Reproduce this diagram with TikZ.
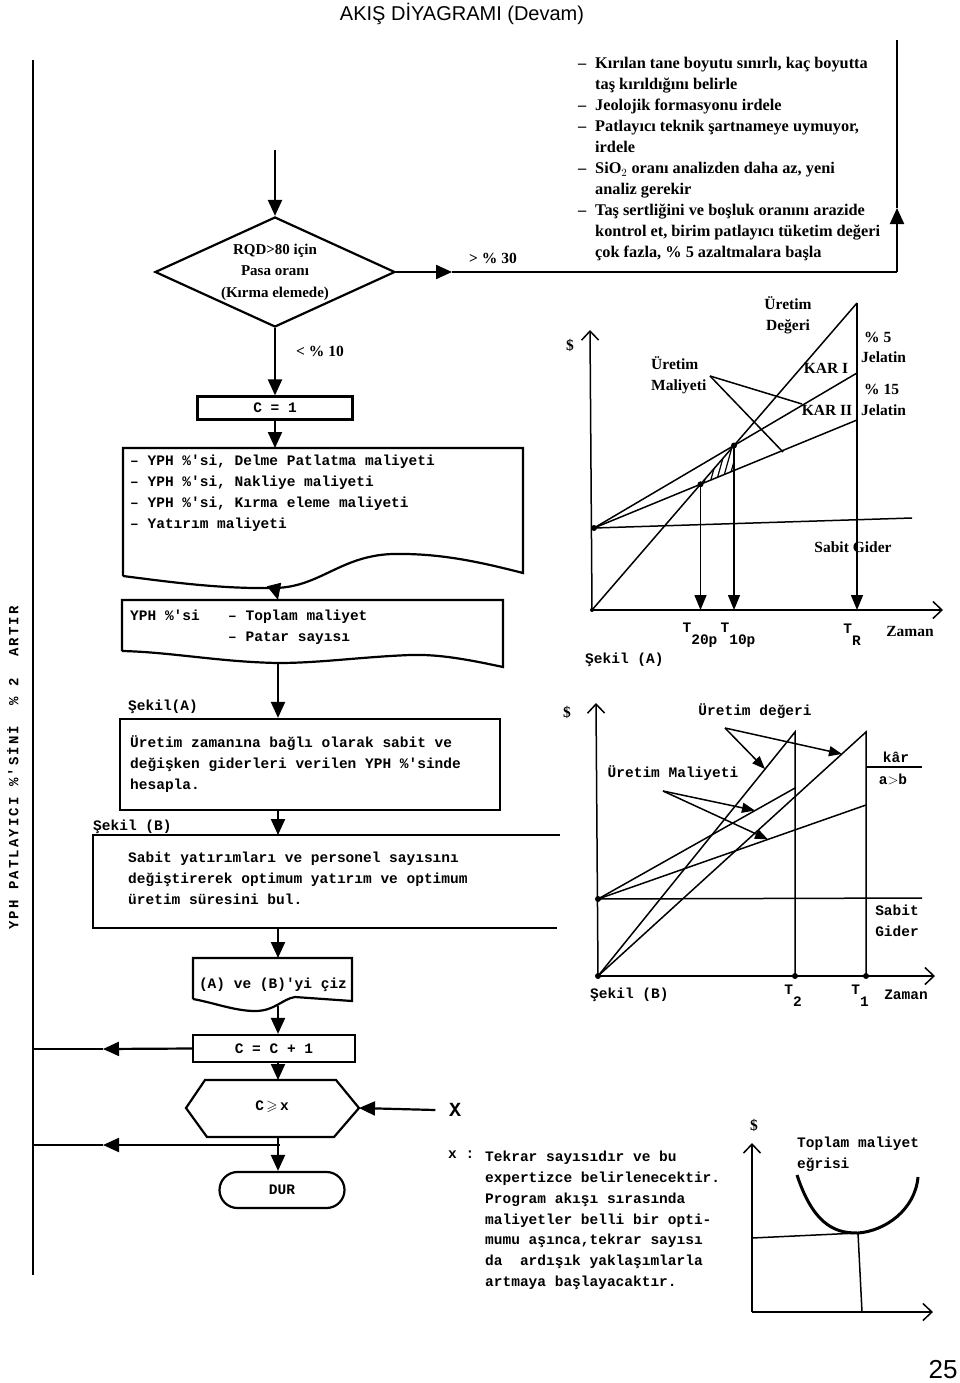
\documentclass[tikz,border=0pt]{standalone}
\usepackage{fontspec}
\usepackage{amssymb}
\setmainfont{Liberation Serif}
\setsansfont{Liberation Sans}
\setmonofont{Liberation Mono}
\usetikzlibrary{arrows.meta,positioning,shapes.geometric,shapes.misc}
\newcommand{\Tsub}[1]{T\raisebox{-12pt}{#1}}
\newcommand{\itm}{\makebox[17pt][l]{–}}
\newcommand{\cnt}{\hspace*{17pt}}
\tikzset{
  link/.style={line width=2.2pt},
  flow/.style={link,-{Triangle[length=16pt,width=14pt]}},
  cline/.style={line width=1.5pt},
  cflow/.style={cline,-{Triangle[length=15pt,width=12pt]}},
  ax/.style={cline,-{Straight Barb[length=9pt,width=17pt]}},
  pnt/.style={cline,-{Triangle[length=13pt,width=10pt]}},
  tw/.style={font=\ttfamily\bfseries\fontsize{14.5}{20.8}\selectfont,align=left,inner sep=0pt},
  rm/.style={font=\bfseries\fontsize{15.5}{21}\selectfont,align=left,inner sep=0pt},
  dot/.style={circle,fill,inner sep=0pt,minimum size=6pt},
}
\begin{document}
\begin{tikzpicture}[x=1pt,y=-1pt]
\useasboundingbox (0,0) rectangle (960,1383);
\node[font=\sffamily\fontsize{20}{24}\selectfont] (title) at (462,14) {AKIŞ DİYAGRAMI (Devam)};
\node[font=\sffamily\fontsize{26}{30}\selectfont] (page) at (943,1370) {25};
\node[tw,rotate=90,font=\ttfamily\bfseries\fontsize{14}{16}\selectfont\addfontfeature{LetterSpace=15}] (artir) at (13,768) {YPH PATLAYICI \%'SİNİ\ \ \% 2\ \ ARTIR};

% ana akis
\coordinate (ltop) at (33,60);
\coordinate (lbot) at (33,1275);
\draw[link] (ltop) -- (lbot);
\coordinate (in) at (275,150);
\node[draw,link,diamond,aspect=2.18,minimum width=240pt,minimum height=110pt,inner sep=0pt,rm,align=center,font=\bfseries\fontsize{15}{21.5}\selectfont] (pasa) at (275,272) {RQD>80 için\\Pasa oranı\\(Kırma elemede)};
\draw[flow] (in) -- (pasa.north);
\coordinate (m30) at (452,272);
\coordinate (rc) at (897,272);
\coordinate (ra) at (897,208);
\coordinate (rtop) at (897,40);
\draw[flow] (pasa.east) -- (m30);
\draw[link] (m30) -- (rc);
\draw[flow] (rc) -- (ra);
\draw[link] (ra) -- (rtop);
\node[rm] (g30) at (493,258) {> \% 30};
\node[rm,anchor=north west,font=\bfseries\fontsize{16.3}{21}\selectfont] (notes) at (578,57) {\itm Kırılan tane boyutu sınırlı, kaç boyutta\\
\cnt taş kırıldığını belirle\\
\itm Jeolojik formasyonu irdele\\
\itm Patlayıcı teknik şartnameye uymuyor,\\
\cnt irdele\\
\itm SiO$_2$ oranı analizden daha az, yeni\\
\cnt analiz gerekir\\
\itm Taş sertliğini ve boşluk oranını arazide\\
\cnt kontrol et, birim patlayıcı tüketim değeri\\
\cnt çok fazla, \% 5 azaltmalara başla};

\node[draw,link,minimum width=155pt,minimum height=23pt,tw] (c1) at (275,408) {C = 1};
\draw[flow] (pasa.south) -- (c1.north);
\node[rm] (l10) at (320,351) {< \% 10};

\coordinate (d1top) at (275,448);
\coordinate (d1bot) at (275,588);
\draw[link] (123,576) -- (123,448) -- (523,448) -- (523,573) .. controls (480,562) and (440,553) .. (392,554) .. controls (340,556) and (320,587) .. (275,588) .. controls (220,589) and (170,582) .. (123,576);
\draw[flow] (c1.south) -- (d1top);
\node[tw,anchor=north west] (d1txt) at (130,455) {– YPH \%'si, Delme Patlatma maliyeti\\– YPH \%'si, Nakliye maliyeti\\– YPH \%'si, Kırma eleme maliyeti\\– Yatırım maliyeti};

\coordinate (d2top) at (278,600);
\coordinate (d2bot) at (278,663);
\draw[link] (122,651) -- (122,600) -- (503,600) -- (503,667) .. controls (470,660) and (440,654) .. (410,655) .. controls (360,657) and (320,663) .. (278,663) .. controls (220,662) and (170,652) .. (122,651);
\draw[flow] (d1bot) -- (d2top);
\node[tw,anchor=north west] (yph) at (130,610) {YPH \%'si};
\node[tw,anchor=north west] (toplam) at (228,610) {– Toplam maliyet\\– Patar sayısı};

\node[draw,link,minimum width=380pt,minimum height=91pt] (b3) at (310,764.5) {};
\node[tw,anchor=south west] (sekA) at (128,714) {Şekil(A)};
\draw[flow] (d2bot) -- (b3.north -| d2bot);
\node[tw,anchor=north west] (b3txt) at (130,736) {Üretim zamanına bağlı olarak sabit ve\\değişken giderleri verilen YPH \%'sinde\\hesapla.};

\coordinate (b4top) at (278,835);
\coordinate (b4bot) at (278,928);
\draw[link] (560,835) -- (93,835) -- (93,928) -- (557,928);
\draw[flow] (b3.south -| b4top) -- (b4top);
\node[tw,anchor=south west] (sekB) at (93,834) {Şekil (B)};
\node[tw,anchor=north west] (b4txt) at (128,852) {Sabit yatırımları ve personel sayısını\\değiştirerek optimum yatırım ve optimum\\üretim süresini bul.};

\coordinate (d3top) at (278,958);
\coordinate (d3bot) at (278,1006);
\draw[link] (193,999) -- (193,958) -- (352,958) -- (352,1001) -- (295,997) .. controls (282,999) and (275,1011) .. (255,1011) .. controls (235,1011) and (215,1003) .. (193,999);
\draw[flow] (b4bot) -- (d3top);
\node[tw] (ciz) at (273,985) {(A) ve (B)'yi çiz};

\node[draw,link,minimum width=162pt,minimum height=27pt,tw] (cc) at (274,1048.5) {C = C + 1};
\draw[flow] (d3bot) -- (cc.north -| d3bot);
\coordinate (la1) at (103,1049);
\coordinate (lb1) at (33,1049);
\draw[flow] (cc.west) -- (la1);
\draw[link] (la1) -- (lb1);

\coordinate (hexN) at (278,1080);
\coordinate (hexS) at (278,1137);
\coordinate (hexE) at (359,1108);
\draw[link] (205,1080) -- (336,1080) -- (hexE) -- (334,1137) -- (207,1137) -- (186,1108) -- cycle;
\node[tw] (cx) at (272,1107) {C$\,\geqslant\,$x};
\draw[flow] (cc.south -| hexN) -- (hexN);
\node[font=\ttfamily\bfseries\fontsize{20}{24}\selectfont] (xin) at (455,1110) {X};
\draw[flow] ([xshift=-10pt]xin.west) -- (hexE);

\node[draw,link,rounded rectangle,minimum width=125pt,minimum height=36pt,tw] (dur) at (282,1190) {DUR};
\draw[flow] (hexS) -- (dur.north -| hexS);
\coordinate (hb) at (280,1145);
\coordinate (la2) at (103,1145);
\coordinate (lb2) at (33,1145);
\draw[flow] (hb) -- (la2);
\draw[link] (la2) -- (lb2);

\node[tw,anchor=north west] (xlbl) at (448,1151) {x :};
\node[tw,anchor=north west] (note) at (485,1151) {Tekrar sayısıdır ve bu\\expertizce belirlenecektir.\\Program akışı sırasında\\maliyetler belli bir opti-\\mumu aşınca,tekrar sayısı\\da\ \ ardışık yaklaşımlarla\\artmaya başlayacaktır.};

% Sekil (A)
\coordinate (oA) at (592,610);
\coordinate (yA) at (590,330);
\coordinate (xA) at (943,610);
\draw[ax] (oA) -- (yA);
\draw[ax] (oA) -- (xA);
\coordinate (fA) at (594,528);
\coordinate (fAe) at (912,518);
\coordinate (vA) at (857,303);
\coordinate (uA) at (857,373);
\coordinate (lA) at (857,420);
\coordinate (p20) at (700.5,484.3);
\coordinate (p10) at (734,445.5);
\coordinate (q10) at (734,470.5);
\draw[cline] (fA) -- (fAe);
\draw[cline] (oA) -- (vA);
\draw[cline] (fA) -- (uA);
\draw[cline] (fA) -- (lA);
\begin{scope}
\clip (p20) -- (p10) -- (q10) -- cycle;
\foreach \hx in {690,696,...,740} \draw[line width=1.2pt] (\hx,490) -- ++(14,-50);
\end{scope}
\coordinate (t20) at (700.5,610);
\coordinate (t10) at (734,610);
\coordinate (tR) at (857,610);
\draw[cflow] (p20) -- (t20);
\draw[cflow] (p10) -- (t10);
\draw[cflow] (vA) -- (tR);
\node[dot] at (fA) {};
\node[dot] at (p20) {};
\node[dot] at (p10) {};
\node[dot,minimum size=4pt] at (oA) {};
\node[rm] (dolA) at (570,345) {\$};
\node[rm,align=center] (degA) at (788,315) {Üretim\\Değeri};
\node[rm,anchor=north west] (malA) at (651,356) {Üretim\\Maliyeti};
\coordinate (mpA) at (710,376);
\draw[cline] (mpA) -- (802,404);
\draw[cline] (mpA) -- (783,452);
\node[rm] (kar1) at (826,368) {KAR I};
\node[rm] (kar2) at (827,410) {KAR II};
\node[rm,anchor=west] (p5) at (864,337) {\% 5};
\node[rm,anchor=west] (j5) at (861,357) {Jelatin};
\node[rm,anchor=west] (p15) at (864,389) {\% 15};
\node[rm,anchor=west] (j15) at (861,410) {Jelatin};
\node[rm] (sgA) at (853,547) {Sabit Gider};
\node[tw] (T20) at (700,635) {\Tsub{20p}};
\node[tw] (T10) at (738,635) {\Tsub{10p}};
\node[tw] (TR) at (852,635) {\Tsub{R}};
\node[rm] (zA) at (910,631) {Zaman};
\node[tw,anchor=west] (sekilA) at (585,660) {Şekil (A)};

% Sekil (B)
\coordinate (oB) at (598,976);
\coordinate (yB) at (596,703);
\coordinate (xB) at (935,976);
\draw[ax] (oB) -- (yB);
\draw[ax] (oB) -- (xB);
\coordinate (fB) at (598,899);
\coordinate (fBe) at (922,898);
\coordinate (t2) at (795,732);
\coordinate (t2b) at (795,976);
\coordinate (t1) at (866,732);
\coordinate (t1b) at (866,976);
\coordinate (c2) at (795,788);
\coordinate (c1e) at (866,805);
\draw[cline] (fB) -- (fBe);
\draw[cline] (oB) -- (t2) -- (t2b);
\draw[cline] (oB) -- (t1) -- (t1b);
\draw[cline] (fB) -- (c2);
\draw[cline] (fB) -- (c1e);
\draw[cline] (866,767) -- (922,767);
\node[dot] at (fB) {};
\node[dot] at (oB) {};
\node[dot] at (t2b) {};
\node[dot] at (t1b) {};
\node[rm] (dolB) at (567,712) {\$};
\node[tw] (degB) at (755,711) {Üretim değeri};
\coordinate (vpB) at (725,728);
\draw[pnt] (vpB) -- (765,769);
\draw[pnt] (vpB) -- (842,754);
\node[tw] (malB) at (673,773) {Üretim Maliyeti};
\coordinate (mpB) at (663,791);
\draw[pnt] (mpB) -- (755,810.5);
\draw[pnt] (mpB) -- (768,839.4);
\node[tw] (kar) at (896,757) {kâr};
\node[tw] (ab) at (893,779) {a$>$b};
\node[tw,align=center] (sgB) at (897,921) {Sabit\\Gider};
\node[tw] (T2) at (793,996) {\Tsub{2}};
\node[tw] (T1) at (860,996) {\Tsub{1}};
\node[tw] (zB) at (906,995) {Zaman};
\node[tw,anchor=west] (sekilB) at (590,995) {Şekil (B)};

% toplam maliyet
\coordinate (oC) at (752,1312);
\coordinate (yC) at (752,1143);
\coordinate (xC) at (933,1312);
\draw[ax] (oC) -- (yC);
\draw[ax] (oC) -- (xC);
\coordinate (mC) at (858,1233);
\draw[line width=3pt] (797,1175) .. controls (815,1230) and (840,1233) .. (mC) .. controls (885,1231) and (915,1210) .. (918,1177);
\draw[cline] (752,1238) -- (mC) -- (862,1312);
\node[rm] (dolC) at (754,1125) {\$};
\node[tw,anchor=north west] (egri) at (797,1137) {Toplam maliyet\\eğrisi};
\end{tikzpicture}
\end{document}
